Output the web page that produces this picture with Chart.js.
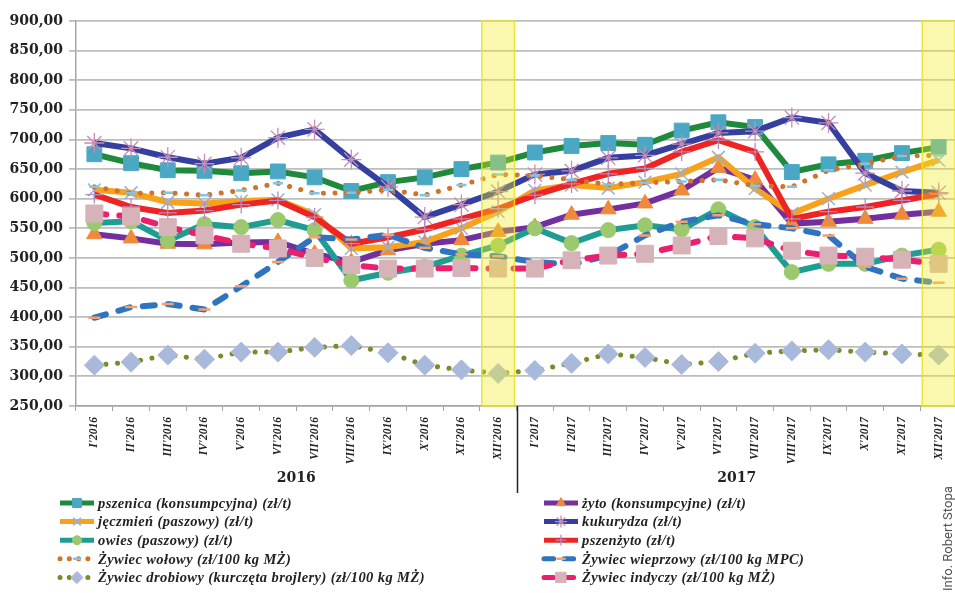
<!DOCTYPE html>
<html>
<head>
<meta charset="utf-8">
<script src="https://cdn.jsdelivr.net/npm/chart.js@4.4.1/dist/chart.umd.min.js"></script>
<style>
  html, body { margin: 0; padding: 0; background: #fff; overflow: hidden; }
  #wrap { position: relative; width: 955px; height: 593px; overflow: hidden; }
  #credit { position: absolute; left: 940px; top: 591px; transform-origin: 0 0; transform: rotate(-90deg);
            font: 13px Roboto, sans-serif; color: #555; white-space: nowrap; }
</style>
</head>
<body>
<div id="wrap">
  <canvas id="wykres" width="970" height="593"></canvas>
  <div id="credit">Info. Robert Stopa</div>
</div>
<script>
// Dane
const lata = ['2016', '2017'];
const miesiace = ['I', 'II', 'III', 'IV', 'V', 'VI', 'VII', 'VIII', 'IX', 'X', 'XI', 'XII'];
const etykiety = lata.flatMap(r => miesiace.map(m => m + "'" + r));
const wyroznione = ["XII'2016", "XII'2017"];

const pszenica  = [675, 660, 648, 647, 643, 646, 636, 613, 628, 636, 650, 661, 678, 689, 694, 691, 715, 729, 721, 645, 658, 664, 677, 687];
const zyto      = [540, 533, 524, 523, 526, 527, 507, 493, 513, 524, 530, 544, 552, 573, 582, 592, 614, 652, 632, 558, 561, 566, 573, 578];
const jeczmien  = [615, 610, 594, 592, 596, 598, 573, 516, 518, 527, 550, 578, 614, 623, 618, 628, 642, 670, 617, 575, 600, 623, 645, 665];
const kukurydza = [694, 685, 670, 659, 669, 703, 717, 666, 620, 569, 590, 612, 641, 647, 669, 673, 692, 711, 714, 737, 728, 643, 613, 610];
const owies     = [559, 562, 529, 557, 552, 564, 547, 462, 475, 485, 504, 521, 550, 525, 547, 555, 548, 582, 552, 476, 490, 490, 504, 514];
const pszenzyto = [607, 586, 576, 580, 590, 597, 569, 524, 535, 548, 566, 583, 606, 625, 642, 651, 679, 699, 679, 566, 578, 586, 597, 608];
const wolowy    = [620, 609, 610, 606, 614, 626, 609, 610, 615, 606, 623, 641, 639, 632, 624, 627, 629, 632, 622, 620, 648, 659, 672, 673];
const wieprzowy = [399, 417, 422, 413, 452, 493, 535, 531, 539, 517, 506, 503, 493, 489, 504, 538, 561, 572, 557, 550, 538, 485, 465, 458];
const drobiowy  = [319, 324, 336, 329, 341, 341, 349, 352, 340, 319, 311, 305, 310, 322, 338, 332, 320, 325, 339, 343, 345, 341, 338, 336];
const indyczy   = [575, 570, 552, 538, 524, 516, 500, 488, 482, 482, 483, 482, 482, 496, 504, 507, 521, 537, 533, 512, 504, 502, 497, 490];

const osY = { min: 250, max: 900, krok: 50 };

// seria z grubą linią i znacznikiem
function seria(label, data, kolor, znacznik, extra) {
    return Object.assign({
        label: label,
        data: data,
        borderColor: kolor,
        borderWidth: 6,
        tension: 0,
        fill: false,
        pointStyle: znacznik.styl,
        pointRadius: znacznik.r,
        pointBackgroundColor: znacznik.kolor,
        pointBorderColor: znacznik.kolor,
        pointBorderWidth: znacznik.w || 1,
        pointHoverRadius: znacznik.r
    }, extra || {});
}

const kropki = { borderDash: [0.1, 11.5], borderCapStyle: 'round', borderWidth: 5 };
const kreski = { borderDash: [12, 13], borderCapStyle: 'round', borderWidth: 6 };

const zbiory = [
    seria('pszenica (konsumpcyjna) (zł/t)', pszenica, '#1f8a3b', { styl: 'rect', r: 10.5, kolor: '#4aa8c4' }),
    seria('żyto (konsumpcyjne) (zł/t)', zyto, '#732f9e', { styl: 'triangle', r: 9, kolor: '#ee8a3a' }),
    seria('jęczmień (paszowy) (zł/t)', jeczmien, '#f8a21c', { styl: 'crossRot', r: 9, kolor: '#9aaed6', w: 1.5 }),
    seria('kukurydza (zł/t)', kukurydza, '#343f9f', { styl: 'star', r: 10, kolor: '#c88cb4', w: 1.3 }),
    seria('owies (paszowy) (zł/t)', owies, '#1f9d93', { styl: 'circle', r: 7.5, kolor: '#9cc86e' }),
    seria('pszenżyto (zł/t)', pszenzyto, '#ee2424', { styl: 'cross', r: 9, kolor: '#b48cc0', w: 1.3 }),
    seria('Żywiec wołowy (zł/100 kg MŻ)', wolowy, '#d0732c', { styl: 'line', r: 5, kolor: '#7ec6e6', w: 2.5 }, kropki),
    seria('Żywiec wieprzowy (zł/100 kg MPC)', wieprzowy, '#2f74c0', { styl: 'line', r: 6, kolor: '#f4a070', w: 2.5 }, kreski),
    seria('Żywiec drobiowy (kurczęta brojlery) (zł/100 kg MŻ)', drobiowy, '#7b8a2a', { styl: 'rectRot', r: 10, kolor: '#a9b9dc' }, kropki),
    seria('Żywiec indyczy (zł/100 kg MŻ)', indyczy, '#ea1f6e', { styl: 'rect', r: 12, kolor: '#d6b3b9' }, kreski)
];
// późniejsze serie na wierzchu, jak w Excelu
zbiory.forEach((z, i) => { z.order = -i; });

// pasy wyróżnienia, rok pod osią, legenda
const dodatki = {
    id: 'dodatki',
    afterDatasetsDraw(chart) {
        const ctx = chart.ctx, x = chart.scales.x, a = chart.chartArea;
        const szer = x.getPixelForValue(1) - x.getPixelForValue(0);
        ctx.save();
        wyroznione.forEach(e => {
            const xc = x.getPixelForValue(etykiety.indexOf(e));
            const pol = szer * 0.445;
            ctx.fillStyle = 'rgba(242, 236, 30, 0.36)';
            ctx.fillRect(xc - pol, a.top, pol * 2, a.bottom - a.top);
            ctx.strokeStyle = 'rgba(232, 226, 40, 0.9)';
            ctx.lineWidth = 1.5;
            ctx.strokeRect(xc - pol, a.top, pol * 2, a.bottom - a.top);
        });
        ctx.restore();
    },
    afterDraw(chart) {
        const ctx = chart.ctx, x = chart.scales.x, a = chart.chartArea;
        const szer = x.getPixelForValue(1) - x.getPixelForValue(0);
        ctx.save();
        // lata
        ctx.fillStyle = '#222';
        ctx.font = 'bold 14px "DejaVu Serif"';
        ctx.textAlign = 'center';
        ctx.textBaseline = 'middle';
        lata.forEach((r, j) => {
            const x0 = x.getPixelForValue(j * 12) - szer / 2;
            const x1 = x.getPixelForValue(j * 12 + 11) + szer / 2;
            ctx.fillText(r, (x0 + x1) / 2, 478);
            if (j > 0) {
                ctx.strokeStyle = '#222';
                ctx.lineWidth = 1.5;
                ctx.beginPath();
                ctx.moveTo(Math.round(x0) + 0.5, a.bottom);
                ctx.lineTo(Math.round(x0) + 0.5, 493);
                ctx.stroke();
            }
        });
        // legenda w dwóch kolumnach
        ctx.font = 'bold italic 14.5px "Liberation Serif"';
        ctx.letterSpacing = '0.4px';
        ctx.textAlign = 'left';
        chart.data.datasets.forEach((d, i) => {
            const kol = i % 2, wiersz = Math.floor(i / 2);
            const x0 = kol ? 542 : 58, x1 = x0 + 38;
            const y = 503 + wiersz * 18.6;
            ctx.save();
            ctx.strokeStyle = d.borderColor;
            ctx.lineWidth = Math.min(d.borderWidth, 5);
            ctx.lineCap = d.borderCapStyle || 'butt';
            ctx.setLineDash(d.borderDash ? d.borderDash.map(v => v * 0.8) : []);
            ctx.beginPath();
            ctx.moveTo(x0 + 2, y);
            ctx.lineTo(x1 - 2, y);
            ctx.stroke();
            ctx.setLineDash([]);
            ctx.fillStyle = d.pointBackgroundColor;
            ctx.strokeStyle = d.pointBorderColor;
            ctx.lineWidth = d.pointBorderWidth;
            Chart.helpers.drawPoint(ctx, {
                pointStyle: d.pointStyle, rotation: 0,
                radius: d.pointRadius * 0.6, borderWidth: d.pointBorderWidth
            }, (x0 + x1) / 2, y);
            ctx.restore();
            ctx.fillStyle = '#222';
            ctx.fillText(d.label, x1 + 2, y + 1);
        });
        ctx.restore();
    }
};

const ctx = document.getElementById('wykres').getContext('2d');
const wykres = new Chart(ctx, {
    type: 'line',
    data: { labels: etykiety, datasets: zbiory },
    options: {
        responsive: false,
        animation: false,
        layout: { padding: { top: 21, right: 4, left: 0, bottom: 0 } },
        plugins: {
            legend: { display: false },
            tooltip: { enabled: false }
        },
        scales: {
            x: {
                offset: true,
                afterFit: s => { s.height = 187; },
                grid: { offset: true, drawOnChartArea: false, tickLength: 5, color: '#a0a0a0', lineWidth: 1 },
                border: { color: '#a6a6a6', width: 1.5 },
                ticks: {
                    autoSkip: false, minRotation: 90, maxRotation: 90, padding: 6,
                    color: '#222', font: { family: 'Liberation Serif', size: 11.5, weight: 'bold', style: 'italic' }
                }
            },
            y: {
                min: osY.min,
                max: osY.max,
                afterFit: s => { s.width = 76; },
                grid: { color: '#bdbdbd', lineWidth: 1.8, tickLength: 7 },
                border: { color: '#a6a6a6', width: 1.5 },
                ticks: {
                    stepSize: osY.krok, padding: 6, color: '#222',
                    font: { family: 'DejaVu Serif', size: 14, weight: 'bold' },
                    callback: v => v.toFixed(2).replace('.', ',')
                }
            }
        }
    },
    plugins: [dodatki]
});
</script>
</body>
</html>
